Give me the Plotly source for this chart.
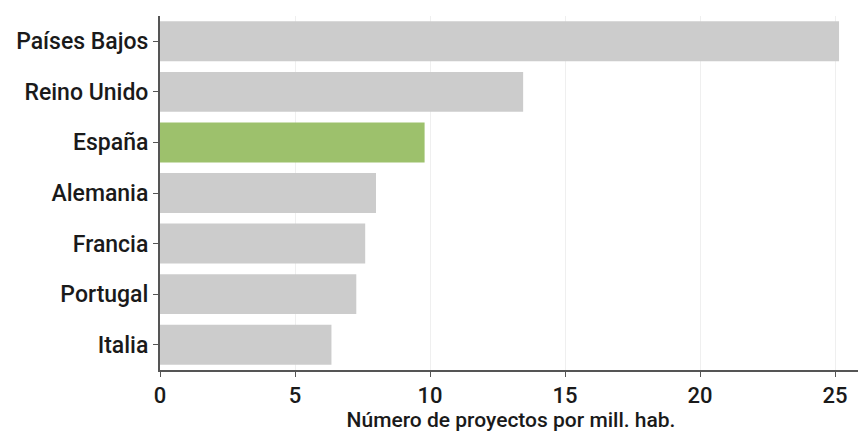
import plotly.graph_objects as go

countries = ["Países Bajos", "Reino Unido", "España", "Alemania", "Francia", "Portugal", "Italia"]
values = [25.15, 13.45, 9.8, 8.0, 7.6, 7.27, 6.35]
highlight = "España"
x_ticks = [0, 5, 10, 15, 20, 25]
x_title = "Número de proyectos por mill. hab."

colors = ["#9dc16c" if c == highlight else "#cccccc" for c in countries]

fig = go.Figure(go.Bar(
    x=values, y=countries, orientation="h",
    marker=dict(color=colors, line=dict(width=0)),
    width=0.79,
))

# page body has an 8px default margin; figure sized to fit the 866x434 window
fig.update_layout(
    width=858, height=426,
    margin=dict(l=152, r=4, t=8, b=64),
    plot_bgcolor="white", paper_bgcolor="white",
    font=dict(family="Roboto", size=21, color="#1a1a1a", weight=500),
    showlegend=False,
)
fig.update_yaxes(
    categoryorder="array", categoryarray=countries[::-1],
    showline=True, linecolor="#555555", linewidth=2,
    ticks="outside", ticklen=5, tickcolor="#555555", tickwidth=1,
    showgrid=False, automargin=False,
    tickfont=dict(size=23, weight=500),
)
fig.update_xaxes(
    range=[0, 26], tickvals=x_ticks,
    showline=True, linecolor="#555555", linewidth=2,
    ticks="outside", ticklen=5, tickcolor="#555555",
    showgrid=True, gridcolor="#efefef", gridwidth=1,
    zeroline=False, automargin=False,
    tickfont=dict(size=22, weight=500),
    title=dict(text=x_title, font=dict(size=21, weight=500), standoff=4),
)
fig.write_html("out.html")
